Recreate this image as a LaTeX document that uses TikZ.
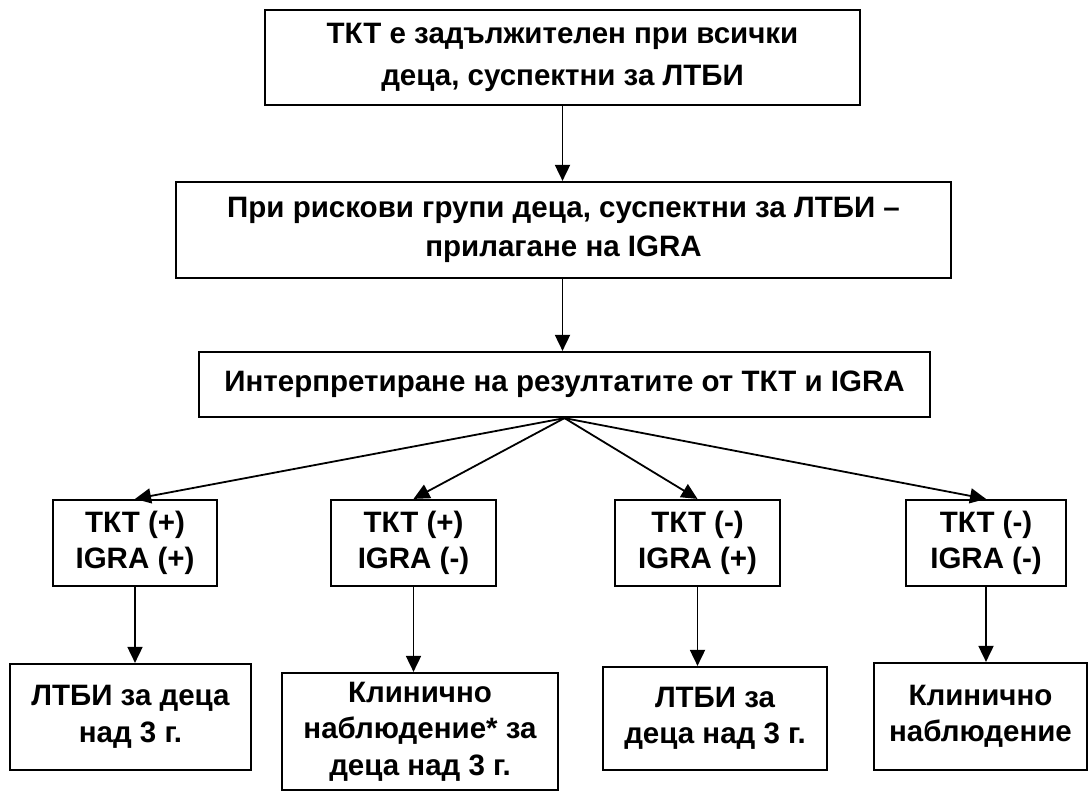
\documentclass[tikz,border=0pt]{standalone}
\usepackage{fontspec}
\setmainfont{Liberation Sans}
\usetikzlibrary{arrows.meta}
\begin{document}
\begin{tikzpicture}[x=1pt,y=-1pt,
  box/.style={draw, line width=2.2pt, inner sep=0pt, align=center, font=\fontsize{29.5}{42}\selectfont\bfseries},
  sbox/.style={box, font=\fontsize{29.5}{36.5}\selectfont\bfseries},
  arr/.style={line width=1.8pt, -{Triangle[length=16pt,width=15pt]}}]
\useasboundingbox (0,0) rectangle (1091,792);
\node[box, minimum width=595pt, minimum height=95pt] (top) at (562.5,57.5) {ТКТ е задължителен при всички\\деца, суспектни за ЛТБИ};
\node[box, font=\fontsize{29.5}{38.5}\selectfont\bfseries, minimum width=775pt, minimum height=96pt] (risk) at (563.5,230) {При рискови групи деца, суспектни за ЛТБИ –\\прилагане на IGRA};
\node[box, minimum width=731pt, minimum height=65pt] (interp) at (564.5,384.5) {Интерпретиране на резултатите от ТКТ и IGRA};
\node[sbox, minimum width=164pt, minimum height=86pt] (b1) at (135,543) {ТКТ (+)\\IGRA (+)};
\node[sbox, minimum width=165pt, minimum height=86pt] (b2) at (413.5,543) {ТКТ (+)\\IGRA (-)};
\node[sbox, minimum width=165pt, minimum height=86pt] (b3) at (697.5,543) {ТКТ (-)\\IGRA (+)};
\node[sbox, minimum width=160pt, minimum height=86pt] (b4) at (986,543) {ТКТ (-)\\IGRA (-)};
\node[sbox, minimum width=241pt, minimum height=106pt] (f1) at (130.5,717) {ЛТБИ за деца\\над 3 г.};
\node[sbox, minimum width=276pt, minimum height=117pt] (f2) at (420,731.5) {Клинично\\наблюдение* за\\деца над 3 г.};
\node[sbox, minimum width=224pt, minimum height=103pt] (f3) at (715,718.5) {ЛТБИ за\\деца над 3 г.};
\node[sbox, minimum width=213pt, minimum height=107pt] (f4) at (980.5,716.5) {Клинично\\наблюдение};
\draw[arr] (top.south) -- (top.south |- risk.north);
\draw[arr] (top.south |- risk.south) -- (top.south |- interp.north);
\foreach \b in {b1,b2,b3,b4} \draw[arr] (interp.south) -- (\b.north);
\foreach \b/\f in {b1/f1,b2/f2,b3/f3,b4/f4} \draw[arr] (\b.south) -- (\b.south |- \f.north);
\end{tikzpicture}
\end{document}
